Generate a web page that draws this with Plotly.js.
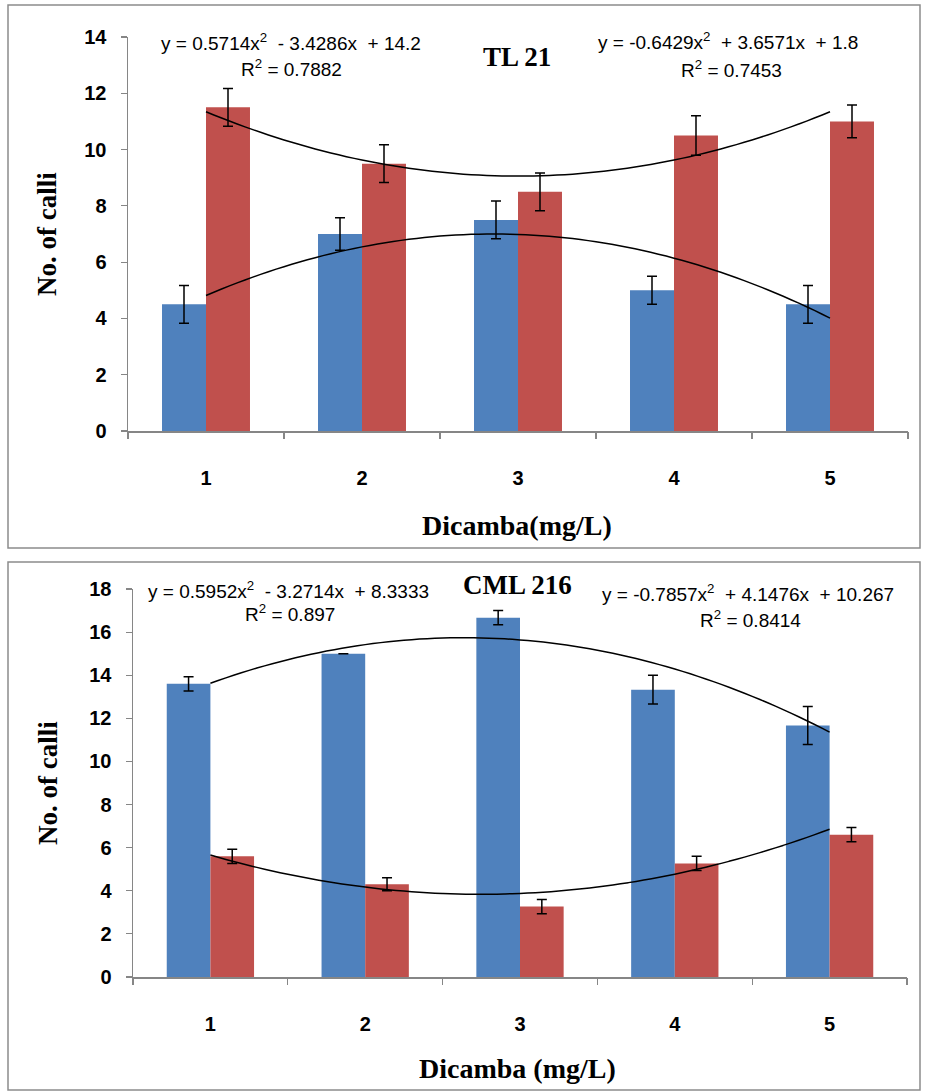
<!DOCTYPE html>
<html>
<head>
<meta charset="utf-8">
<script src="https://cdn.plot.ly/plotly-3.0.1.min.js"></script>
<style>html,body{margin:0;padding:0;background:#fff;}#chart{width:925px;height:1092px;}</style>
</head>
<body>
<div id="chart"></div>
<script>
// ---- data ----
const doses = [1, 2, 3, 4, 5];
const tickLabels = ['1', '2', '3', '4', '5'];

// TL 21 panel
const tl21Blue = [4.5, 7.0, 7.5, 5.0, 4.5];
const tl21BlueErr = [0.67, 0.58, 0.67, 0.5, 0.67];
const tl21Red = [11.5, 9.5, 8.5, 10.5, 11.0];
const tl21RedErr = [0.67, 0.67, 0.67, 0.7, 0.58];
const tl21BlueFit = [-0.6429, 3.6571, 1.8];   // a, b, c
const tl21RedFit = [0.5714, -3.4286, 14.2];
const tl21BlueEq = 'y = -0.6429x<sup>2</sup>  + 3.6571x  + 1.8';
const tl21BlueR2 = 'R<sup>2</sup> = 0.7453';
const tl21RedEq = 'y = 0.5714x<sup>2</sup>  - 3.4286x  + 14.2';
const tl21RedR2 = 'R<sup>2</sup> = 0.7882';

// CML 216 panel
const cmlBlue = [13.6, 15.0, 16.67, 13.33, 11.67];
const cmlBlueErr = [0.33, 0.0, 0.33, 0.67, 0.88];
const cmlRed = [5.6, 4.3, 3.27, 5.27, 6.6];
const cmlRedErr = [0.33, 0.3, 0.33, 0.33, 0.33];
const cmlBlueFit = [-0.7857, 4.1476, 10.267];
const cmlRedFit = [0.5952, -3.2714, 8.3333];
const cmlBlueEq = 'y = -0.7857x<sup>2</sup>  + 4.1476x  + 10.267';
const cmlBlueR2 = 'R<sup>2</sup> = 0.8414';
const cmlRedEq = 'y = 0.5952x<sup>2</sup>  - 3.2714x  + 8.3333';
const cmlRedR2 = 'R<sup>2</sup> = 0.897';

const titles = ['TL 21', 'CML 216'];
const xTitles = ['Dicamba(mg/L)', 'Dicamba (mg/L)'];
const yTitle = 'No. of calli';

// ---- helpers ----
const W = 925, H = 1092;
const px = x => x / W;
const py = y => 1 - y / H;
const BLUE = '#4F81BD', RED = '#C0504D', AXIS = '#868686';
const sansFont = "'Liberation Sans Narrow', 'Liberation Sans', Arial, sans-serif";
const serifFont = "'Liberation Serif', 'Times New Roman', serif";

function trend(coef) {
  const xs = [], ys = [];
  for (let i = 0; i <= 80; i++) {
    const x = doses[0] + (doses[doses.length - 1] - doses[0]) * i / 80;
    xs.push(x);
    ys.push(coef[0] * x * x + coef[1] * x + coef[2]);
  }
  return {xs, ys};
}

function bar(y, err, color, xa, ya) {
  return {
    type: 'bar', x: doses, y: y, xaxis: xa, yaxis: ya,
    marker: {color: color}, showlegend: false, hoverinfo: 'y',
    error_y: {type: 'data', array: err, visible: true, color: '#000', thickness: 1.5, width: 5}
  };
}
function line(coef, xa, ya) {
  const t = trend(coef);
  return {type: 'scatter', mode: 'lines', x: t.xs, y: t.ys, xaxis: xa, yaxis: ya,
    line: {color: '#000', width: 1.5, shape: 'spline'}, showlegend: false, hoverinfo: 'skip'};
}

const data = [
  bar(tl21Blue, tl21BlueErr, BLUE, 'x', 'y'),
  bar(tl21Red, tl21RedErr, RED, 'x', 'y'),
  line(tl21BlueFit, 'x', 'y'),
  line(tl21RedFit, 'x', 'y'),
  bar(cmlBlue, cmlBlueErr, BLUE, 'x2', 'y2'),
  bar(cmlRed, cmlRedErr, RED, 'x2', 'y2'),
  line(cmlBlueFit, 'x2', 'y2'),
  line(cmlRedFit, 'x2', 'y2'),
  // invisible traces to activate boundary-tick overlay axes
  {type: 'scatter', x: [1], y: [0], xaxis: 'x3', yaxis: 'y', mode: 'markers', marker: {opacity: 0}, showlegend: false, hoverinfo: 'skip'},
  {type: 'scatter', x: [1], y: [0], xaxis: 'x4', yaxis: 'y2', mode: 'markers', marker: {opacity: 0}, showlegend: false, hoverinfo: 'skip'}
];

const tickFont = {family: sansFont, size: 20, color: '#000', weight: 'bold'};
function xMain(domain, anchor) {
  return {domain: domain, anchor: anchor, range: [0.5, 5.5], tickmode: 'array', tickvals: doses, ticktext: tickLabels,
    ticks: '', showline: true, linecolor: AXIS, linewidth: 1.5, showgrid: false, zeroline: false,
    tickfont: tickFont, ticklabelstandoff: 28, fixedrange: true};
}
function xBound(domain, anchor, over) {
  return {domain: domain, anchor: anchor, overlaying: over, range: [0.5, 5.5], tickmode: 'array',
    tickvals: [0.5, 1.5, 2.5, 3.5, 4.5, 5.5], ticks: 'outside', ticklen: 7, tickwidth: 1.2, tickcolor: AXIS,
    showticklabels: false, showline: false, showgrid: false, zeroline: false, fixedrange: true};
}
function yMain(domain, anchor, max) {
  return {domain: domain, anchor: anchor, range: [0, max], tickmode: 'linear', tick0: 0, dtick: 2,
    ticks: 'outside', ticklen: 6, tickwidth: 1.2, tickcolor: AXIS, showline: true, linecolor: AXIS, linewidth: 1.5,
    showgrid: false, zeroline: false, tickfont: tickFont, ticklabelstandoff: 10, fixedrange: true};
}

const topX = [px(128), px(908)], topY = [py(431), py(37)];
const botX = [px(133), px(907)], botY = [py(977), py(589)];

function ann(text, x, y, font, angle) {
  return {text: text, x: px(x), y: py(y), xref: 'paper', yref: 'paper', showarrow: false,
    xanchor: 'center', yanchor: 'middle', font: font, textangle: angle || 0};
}
const eqFont = {family: sansFont, size: 19, color: '#000'};
const titleFont = {family: serifFont, size: 27, color: '#000', weight: 'bold'};
const xTitleFont = {family: serifFont, size: 28, color: '#000', weight: 'bold'};
const yTitleFont = {family: serifFont, size: 27, color: '#000', weight: 'bold'};

const layout = {
  width: W, height: H, margin: {l: 0, r: 0, t: 0, b: 0},
  paper_bgcolor: '#fff', plot_bgcolor: 'rgba(0,0,0,0)',
  barmode: 'group', bargap: 0.436, bargroupgap: 0, showlegend: false,
  xaxis: xMain(topX, 'y'), yaxis: yMain(topY, 'x', 14),
  xaxis2: xMain(botX, 'y2'), yaxis2: yMain(botY, 'x2', 18),
  xaxis3: xBound(topX, 'y', 'x'),
  xaxis4: xBound(botX, 'y2', 'x2'),
  shapes: [
    {type: 'rect', xref: 'paper', yref: 'paper', x0: px(8), x1: px(920), y0: py(548), y1: py(5), line: {color: '#8c8c8c', width: 1.5}},
    {type: 'rect', xref: 'paper', yref: 'paper', x0: px(8), x1: px(920), y0: py(1090), y1: py(562), line: {color: '#8c8c8c', width: 1.5}}
  ],
  annotations: [
    ann(titles[0], 517, 57, titleFont),
    ann(tl21RedEq, 291, 42, eqFont), ann(tl21RedR2, 291, 68, eqFont),
    ann(tl21BlueEq, 728, 41, eqFont), ann(tl21BlueR2, 731, 69, eqFont),
    ann(xTitles[0], 517, 525, xTitleFont),
    ann(yTitle, 47, 234, yTitleFont, -90),
    ann(titles[1], 517, 585, titleFont),
    ann(cmlRedEq, 288, 590, eqFont), ann(cmlRedR2, 290, 613, eqFont),
    ann(cmlBlueEq, 748, 593, eqFont), ann(cmlBlueR2, 750, 619, eqFont),
    ann(xTitles[1], 517, 1068, xTitleFont),
    ann(yTitle, 48, 783, yTitleFont, -90)
  ]
};

Plotly.newPlot('chart', data, layout, {displayModeBar: false, staticPlot: true});
</script>
</body>
</html>
